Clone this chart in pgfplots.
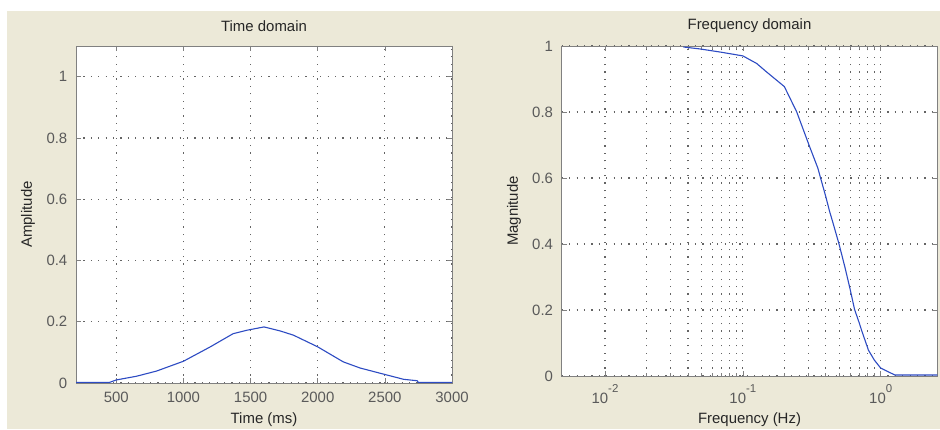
\documentclass[border=0pt]{standalone}
\usepackage{fontspec}
\setmainfont{Liberation Sans}
\usepackage{pgfplots}
\pgfplotsset{compat=1.18}
\definecolor{bgbeige}{RGB}{236,233,216}
\definecolor{mlblue}{RGB}{45,75,195}
\definecolor{tickgray}{RGB}{90,90,90}
\definecolor{boxgray}{RGB}{128,128,128}
\definecolor{gridgray}{RGB}{100,100,100}
\pgfplotsset{
  mlstyle/.style={
    scale only axis,
    axis background/.style={fill=white},
    axis line style={boxgray, line width=0.9bp},
    tick align=inside,
    tick style={boxgray, line width=0.7bp},
    major tick length=5bp,
    minor tick length=3bp,
    grid=major,
    major grid style={gridgray, line width=1.2bp, dash pattern=on 1.2bp off 6.2bp},
    minor grid style={gridgray, line width=1.2bp, dash pattern=on 1.2bp off 6.2bp},
    tick label style={font=\fontsize{15}{17}\selectfont, text=tickgray, inner sep=0pt},
    yticklabel style={anchor=east, xshift=-8.5bp},
    label style={font=\fontsize{15}{17}\selectfont, text=black!85},
    title style={font=\fontsize{15}{17}\selectfont, text=black!85, anchor=center},
    /pgf/number format/assume math mode=true,
    /pgf/number format/1000 sep={},
    ytick={0,0.2,0.4,0.6,0.8,1},
    yticklabels={0,0.2,0.4,0.6,0.8,1},
  }
}
\begin{document}
\begin{tikzpicture}[x=1bp,y=1bp]
\useasboundingbox (0,0) rectangle (940,429);
\fill[white] (0,0) rectangle (940,429);
\fill[bgbeige] (7,0) rectangle (940,418);
\begin{axis}[mlstyle,
  at={(76bp,46bp)}, anchor=south west,
  width=376bp, height=337bp,
  xmin=200, xmax=3000, ymin=0, ymax=1.1,
  xtick={500,1000,1500,2000,2500,3000},
  xticklabel style={anchor=base, yshift=-19bp},
  title={Time domain},
  title style={at={(axis description cs:0.5,1.0415)}},
  xlabel={Time (ms)},
  xlabel style={at={(axis description cs:0.5,-0.1083)}, anchor=center},
  ylabel={Amplitude},
  ylabel style={at={(axis description cs:-0.1277,0.5)}, anchor=center, rotate=0},
]
\addplot[mlblue, line width=1.1bp] coordinates {
(200,0.002) (450,0.002) (500,0.010) (650,0.022) (800,0.039) (1000,0.071)
(1200,0.118) (1370,0.161) (1470,0.172) (1600,0.183) (1720,0.170)
(1820,0.156) (2000,0.118) (2190,0.069) (2315,0.049) (2490,0.029)
(2640,0.012) (2740,0.0075) (2750,0.002) (3000,0.002)
};
\end{axis}
\begin{axis}[mlstyle,
  at={(561.7bp,53bp)}, anchor=south west,
  width=375.6bp, height=330bp,
  xmode=log,
  xmin=0.00485, xmax=2.575, ymin=0, ymax=1,
  xminorgrids=true,
  xtick={0.01,0.1,1},
  xticklabels={10\raisebox{10.5bp}{\fontsize{11.5}{12}\selectfont -2},
               10\raisebox{10.5bp}{\fontsize{11.5}{12}\selectfont -1},
               10\raisebox{10.5bp}{\fontsize{11.5}{12}\selectfont 0}},
  xticklabel style={anchor=base, yshift=-27bp},
  title={Frequency domain},
  title style={at={(axis description cs:0.5,1.0424)}},
  xlabel={Frequency (Hz)},
  xlabel style={at={(axis description cs:0.5,-0.1318)}, anchor=center},
  ylabel={Magnitude},
  ylabel style={at={(axis description cs:-0.127,0.5)}, anchor=center, rotate=0},
]
\addplot[mlblue, line width=1.1bp] coordinates {
(0.037,0.997) (0.049,0.991) (0.07,0.981) (0.1,0.970) (0.126,0.947)
(0.148,0.922) (0.2,0.877) (0.246,0.80) (0.305,0.695) (0.35,0.63)
(0.364,0.604) (0.4,0.543) (0.425,0.50) (0.45,0.465) (0.497,0.402)
(0.55,0.33) (0.6,0.263) (0.646,0.202) (0.7,0.16) (0.726,0.139)
(0.8,0.088) (0.813,0.079) (0.9,0.048) (1.0,0.024) (1.17,0.01)
(1.27,0.003) (2.575,0.003)
};
\end{axis}
\end{tikzpicture}
\end{document}
